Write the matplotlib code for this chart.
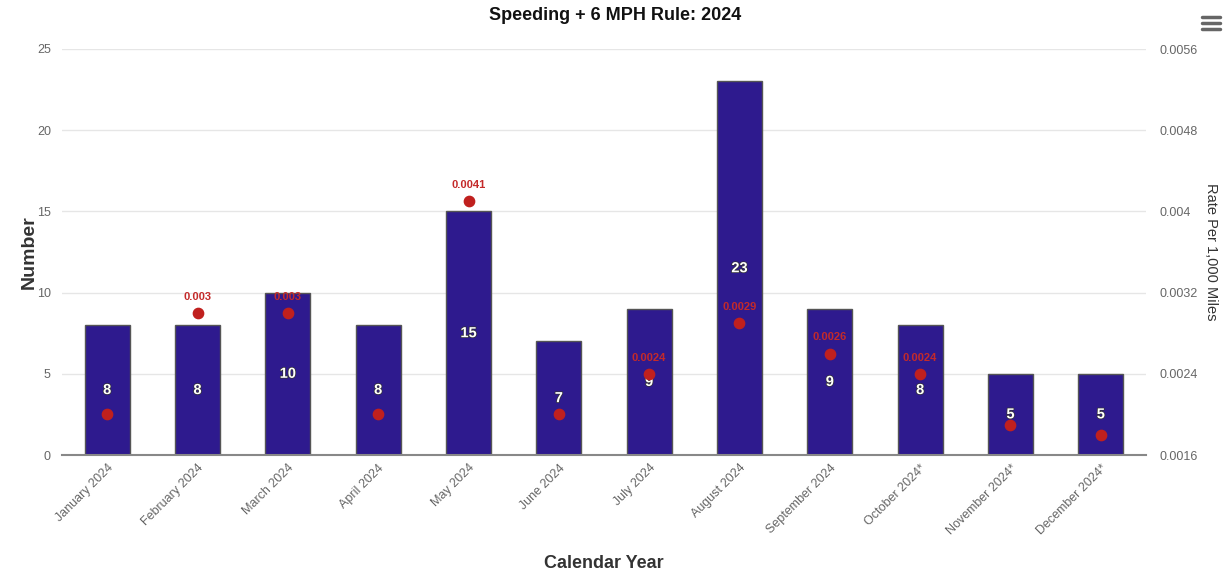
import matplotlib
matplotlib.use("Agg")
import matplotlib.pyplot as plt
import matplotlib.patheffects as pe
from matplotlib.lines import Line2D
import numpy as np

plt.rcParams["font.family"] = ["Liberation Sans", "DejaVu Sans"]

months = ["January 2024", "February 2024", "March 2024", "April 2024", "May 2024",
          "June 2024", "July 2024", "August 2024", "September 2024",
          "October 2024*", "November 2024*", "December 2024*"]
counts = [8, 8, 10, 8, 15, 7, 9, 23, 9, 8, 5, 5]
rates = [0.0020, 0.0030, 0.0030, 0.0020, 0.0041, 0.0020, 0.0024, 0.0029,
         0.0026, 0.0024, 0.0019, 0.0018]
# rate labels the original shows (others hidden by overlap)
rate_shown = [False, True, True, False, True, False, True, True, True, True, False, False]

left_ticks = [0, 5, 10, 15, 20, 25]
right_ticks = [0.0016, 0.0024, 0.0032, 0.0040, 0.0048, 0.0056]

bar_col = "#2e1a8e"
dot_col = "#c0201e"
grid_col = "#e6e6e6"
tick_col = "#666666"

fig = plt.figure(figsize=(12.31, 5.80), dpi=100)
ax = fig.add_axes([62 / 1231, 1 - 455 / 580, (1146 - 62) / 1231, (455 - 49) / 580])
ax2 = ax.twinx()

x = np.arange(len(months))
ax.bar(x, counts, width=0.5, color=bar_col, edgecolor="#555555", linewidth=1, zorder=3)
ax.set_xlim(-0.5, len(months) - 0.5)
ax.set_ylim(0, 25)
ax.set_yticks(left_ticks)
ax.grid(axis="y", color=grid_col, linewidth=1, zorder=0)
ax.set_axisbelow(True)
for s in ["left", "right", "top"]:
    ax.spines[s].set_visible(False)
ax.spines["bottom"].set_color("#888888")
ax.spines["bottom"].set_linewidth(1.5)
ax.spines["bottom"].set_zorder(5)
ax.tick_params(axis="y", length=0, pad=8, labelsize=9, labelcolor=tick_col)
ax.tick_params(axis="x", length=0, pad=5, labelsize=9, labelcolor=tick_col)
ax.set_xticks(x)
ax.set_xticklabels(months, rotation=45, ha="right", rotation_mode="anchor")

for xi, c in zip(x, counts):
    ax.text(xi, c / 2, str(c), ha="center", va="center", color="white",
            fontsize=10.5, fontweight="bold", zorder=6,
            path_effects=[pe.withStroke(linewidth=1, foreground="#333333")])

ax2.set_ylim(0.0016, 0.0056)
ax2.set_yticks(right_ticks)
ax2.set_yticklabels([f"{v:g}" for v in right_ticks])
for s in ["left", "right", "top", "bottom"]:
    ax2.spines[s].set_visible(False)
ax2.tick_params(axis="y", length=0, pad=10, labelsize=9, labelcolor=tick_col)
ax2.scatter(x, rates, s=55, color=dot_col, zorder=7)
for xi, r, show in zip(x, rates, rate_shown):
    if show:
        ax2.annotate(f"{r:g}", (xi, r), xytext=(0, 8), textcoords="offset points",
                     ha="center", va="bottom", color="#c42a2a", fontsize=8,
                     fontweight="bold")

ax.set_ylabel("Number", fontsize=14, fontweight="bold", color="#333333")
ax.yaxis.set_label_coords(-0.022, 0.5)
ax2.set_ylabel("Rate Per 1,000 Miles", fontsize=10.5, color="#333333", rotation=270,
               labelpad=14)
fig.text(604 / 1231, 1 - 563 / 580, "Calendar Year", ha="center", va="center",
         fontsize=13, fontweight="bold", color="#333333")
fig.text(0.5, 1 - 16 / 580, "Speeding + 6 MPH Rule: 2024", ha="center", va="center",
         fontsize=13, fontweight="bold", color="#111111")

# menu icon
for yy in [17, 23, 29]:
    fig.add_artist(Line2D([1202 / 1231, 1220 / 1231], [1 - yy / 580] * 2,
                          color="#666666", linewidth=2.5, solid_capstyle="round"))

fig.savefig("out.png", dpi=100)
